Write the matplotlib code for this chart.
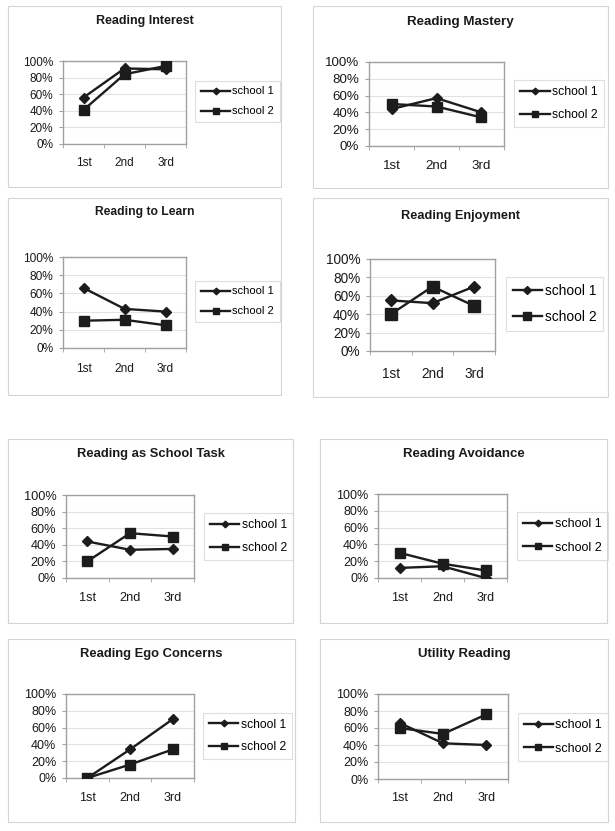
import matplotlib.pyplot as plt
from matplotlib.patches import Rectangle

plt.rcParams['font.family'] = ['Liberation Sans', 'DejaVu Sans']

# data (percent)
grades = ['1st', '2nd', '3rd']
titles = ['Reading Interest', 'Reading Mastery', 'Reading to Learn', 'Reading Enjoyment',
          'Reading as School Task', 'Reading Avoidance', 'Reading Ego Concerns', 'Utility Reading']
series_names = ['school 1', 'school 2']

interest_1 = [56, 91, 90]
interest_2 = [41, 84, 94]
mastery_1 = [44, 57, 40]
mastery_2 = [50, 47, 34]
learn_1 = [66, 43, 40]
learn_2 = [30, 31, 25]
enjoy_1 = [55, 52, 70]
enjoy_2 = [40, 70, 49]
task_1 = [44, 34, 35]
task_2 = [20, 54, 50]
avoid_1 = [12, 14, 0]
avoid_2 = [30, 17, 9]
ego_1 = [0, 34, 70]
ego_2 = [0, 16, 34]
utility_1 = [66, 42, 40]
utility_2 = [60, 53, 76]

data = [(interest_1, interest_2), (mastery_1, mastery_2), (learn_1, learn_2), (enjoy_1, enjoy_2),
        (task_1, task_2), (avoid_1, avoid_2), (ego_1, ego_2), (utility_1, utility_2)]

# layout in pixels: panel box, plot area, title y, legend box, x label y,
# tick fontsize, legend fontsize, title fontsize, marker scale
W, H = 615, 831
layout = [
    ((8, 6, 281, 187), (63, 61, 186, 144), 21, (197, 81, 278, 122), 163, 8.5, 8.0, 9.0, 1.0),
    ((313, 6, 608, 188), (369, 62, 504, 146), 22, (516, 83, 602, 124), 166, 9.6, 8.8, 9.6, 1.0),
    ((8, 198, 281, 395), (63, 257, 186, 348), 212, (197, 279, 278, 324), 369, 8.6, 8.0, 8.7, 1.0),
    ((313, 198, 608, 397), (370, 259, 495, 351), 216, (507, 280, 602, 328), 373, 9.8, 9.9, 9.2, 1.2),
    ((8, 439, 293, 623), (66, 495, 194, 578), 454, (207, 516, 290, 557), 598, 9.2, 8.7, 9.4, 1.0),
    ((320, 439, 607, 623), (378, 494, 507, 578), 454, (520, 515, 605, 557), 598, 9.0, 9.0, 9.5, 1.0),
    ((8, 639, 295, 822), (66, 694, 194, 778), 654, (206, 715, 289, 757), 798, 9.0, 8.7, 9.4, 1.0),
    ((320, 639, 608, 822), (378, 694, 508, 779), 654, (519, 717, 607, 757), 798, 9.0, 9.0, 9.5, 1.0),
]

line_col = '#1c1c1c'

fig = plt.figure(figsize=(W / 100, H / 100), dpi=100)

for i in range(8):
    box, pa, ty, lg, xt, fs, lfs, tfs, msc = layout[i]
    s1, s2 = data[i]

    # panel border
    fig.add_artist(Rectangle((box[0] / W, 1 - box[3] / H), (box[2] - box[0]) / W, (box[3] - box[1]) / H,
                             transform=fig.transFigure, fill=False, ec='#d4d4d4', lw=0.8))

    ax = fig.add_axes([pa[0] / W, 1 - pa[3] / H, (pa[2] - pa[0]) / W, (pa[3] - pa[1]) / H])
    x = range(len(grades))
    ax.plot(x, s1, color=line_col, lw=1.7, marker='D', ms=5.2 * msc, label=series_names[0], zorder=3)
    ax.plot(x, s2, color=line_col, lw=1.7, marker='s', ms=7.2 * msc, label=series_names[1], zorder=3)

    ax.set_xlim(-0.5, 2.5)
    ax.set_ylim(0, 100)
    ax.set_yticks([0, 20, 40, 60, 80, 100])
    ax.set_yticklabels(['0%', '20%', '40%', '60%', '80%', '100%'])
    ax.set_xticks(list(x))
    ax.set_xticklabels(grades)
    ax.set_xticks([-0.5, 0.5, 1.5, 2.5], minor=True)
    ax.grid(axis='y', color='#e2e2e2', lw=0.8)
    ax.set_axisbelow(True)
    for sp in ax.spines.values():
        sp.set_color('#a0a0a0')
        sp.set_linewidth(1.0)

    xpad = (xt - pa[3] - 6) * 0.72
    ax.tick_params(axis='x', which='major', length=0, pad=xpad, labelsize=fs, colors='#1a1a1a')
    ax.tick_params(axis='x', which='minor', length=3, color='#a0a0a0')
    ax.tick_params(axis='y', length=3, pad=4, labelsize=fs, color='#a0a0a0', labelcolor='#1a1a1a')

    fig.text((box[0] + box[2]) / 2 / W, 1 - ty / H, titles[i], ha='center', va='center',
             fontweight='bold', fontsize=tfs, color='#1a1a1a')

    leg = ax.legend(loc='center', bbox_to_anchor=((lg[0] + lg[2]) / 2 / W, 1 - (lg[1] + lg[3]) / 2 / H),
                    bbox_transform=fig.transFigure, fancybox=False, edgecolor='#d6d6d6',
                    fontsize=lfs, markerscale=0.65, handlelength=21.0 / lfs, handletextpad=0.2,
                    borderpad=0.5, labelspacing=0.9, borderaxespad=0)
    leg.get_frame().set_linewidth(0.8)

fig.savefig('out.png', dpi=100)
